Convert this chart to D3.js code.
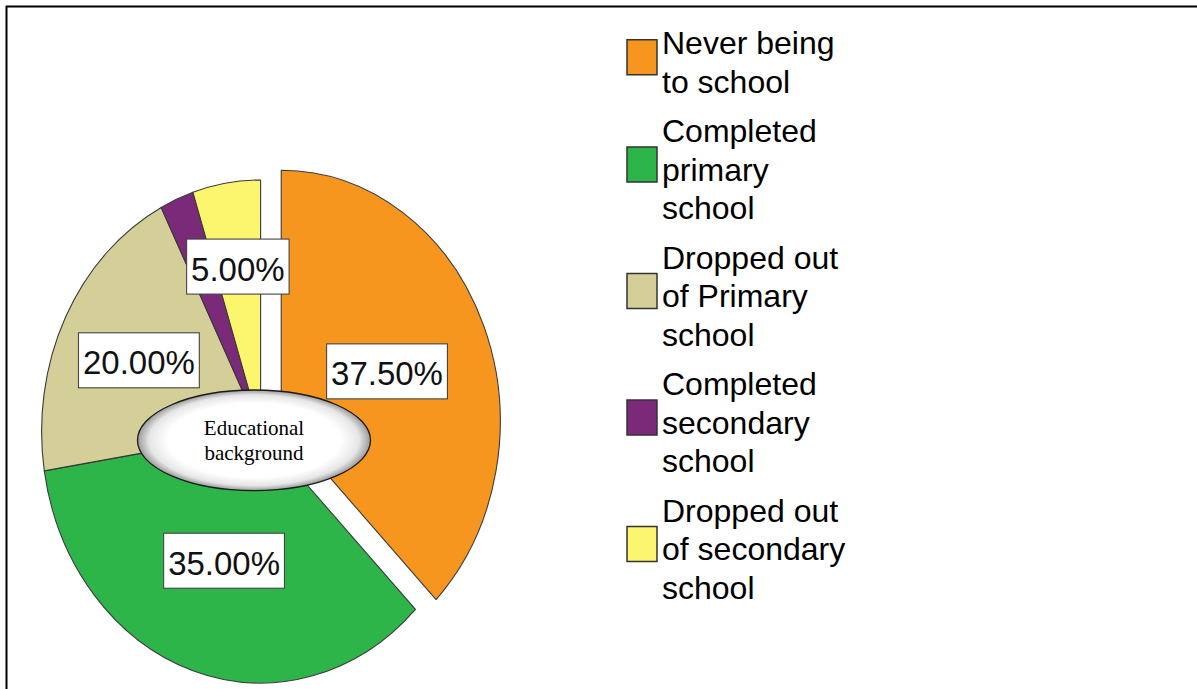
<!DOCTYPE html>
<html>
<head>
<meta charset="utf-8">
<script src="https://cdn.jsdelivr.net/npm/d3@7/dist/d3.min.js"></script>
<style>
  html, body { margin: 0; padding: 0; background: #fff; }
  svg { display: block; }
</style>
</head>
<body>
<svg id="chart" width="1197" height="689"></svg>
<script>
// Educational background of respondents (percent of total)
const categories = [
  "Never being to school",
  "Completed primary school",
  "Dropped out of Primary school",
  "Completed secondary school",
  "Dropped out of secondary school"
];
const legendLines = [
  ["Never being", "to school"],
  ["Completed", "primary", "school"],
  ["Dropped out", "of Primary", "school"],
  ["Completed", "secondary", "school"],
  ["Dropped out", "of secondary", "school"]
];
const percentages = [37.5, 35.0, 20.0, 2.5, 5.0];
const sliceColors = ["#f7961f", "#2eb54a", "#d4cf98", "#7b2a79", "#fbf66e"];
const explodedSlices = [true, false, false, false, false];
const centerTitle = ["Educational", "background"];

const svg = d3.select("#chart");

// frame (top and left rules)
svg.append("path")
  .attr("d", "M6.5,689 V6.5 H1197")
  .attr("fill", "none")
  .attr("stroke", "#000")
  .attr("stroke-width", 2);

// ---- pie (drawn on a unit circle, stretched into an ellipse) ----
const cx = 260.6, cy = 431.5, rx = 219, ry = 251.5;
const R = 100;
const sx = rx / R, sy = ry / R;
const explodeFrac = 0.102;

const pie = d3.pie().sort(null).value(d => d.value)
  .startAngle(0).endAngle(2 * Math.PI);
const arc = d3.arc().innerRadius(0).outerRadius(R);

const data = categories.map((c, i) => ({
  name: c, value: percentages[i], color: sliceColors[i], exploded: explodedSlices[i]
}));
const arcs = pie(data);

const pieG = svg.append("g")
  .attr("transform", `translate(${cx},${cy}) scale(${sx},${sy})`);

function offsetOf(a) {
  if (!a.data.exploded) return [0, 0];
  const mid = (a.startAngle + a.endAngle) / 2;
  return [explodeFrac * R * Math.sin(mid), -explodeFrac * R * Math.cos(mid)];
}

pieG.selectAll("path.slice")
  .data(arcs)
  .join("path")
  .attr("class", "slice")
  .attr("d", arc)
  .attr("transform", d => { const o = offsetOf(d); return `translate(${o[0]},${o[1]})`; })
  .attr("fill", d => d.data.color)
  .attr("stroke", "#3a3a3a")
  .attr("stroke-width", 1.1)
  .attr("stroke-linejoin", "round")
  .attr("vector-effect", "non-scaling-stroke");

// ---- value labels at each sector's centroid ----
const labelFont = 34;
const labelG = svg.append("g");
arcs.filter(a => a.data.value >= 3).forEach(a => {
  const half = (a.endAngle - a.startAngle) / 2;
  const mid = (a.startAngle + a.endAngle) / 2;
  const dist = (2 / 3) * R * Math.sin(half) / half;
  const o = offsetOf(a);
  const lx = cx + sx * (dist * Math.sin(mid) + o[0]);
  const ly = cy + sy * (-dist * Math.cos(mid) + o[1]);
  const g = labelG.append("g").attr("transform", `translate(${lx},${ly})`);
  const rect = g.append("rect");
  const t = g.append("text")
    .attr("text-anchor", "middle")
    .attr("y", 14)
    .attr("transform", "scale(0.97,1)")
    .attr("font-family", "Arial, 'Liberation Sans', sans-serif")
    .attr("font-size", labelFont)
    .attr("fill", "#111")
    .text(d3.format(".2f")(a.data.value) + "%");
  const w = t.node().getComputedTextLength() * 0.97 + 9;
  const h = 55;
  rect.attr("x", -w / 2).attr("y", -h / 2).attr("width", w).attr("height", h)
    .attr("fill", "#fff").attr("stroke", "#444").attr("stroke-width", 1.1);
});

// ---- central title bubble ----
const defs = svg.append("defs");
const grad = defs.append("radialGradient").attr("id", "bubbleFill")
  .attr("cx", "50%").attr("cy", "50%").attr("r", "50%");
grad.append("stop").attr("offset", "0%").attr("stop-color", "#ffffff");
grad.append("stop").attr("offset", "74%").attr("stop-color", "#ffffff");
grad.append("stop").attr("offset", "90%").attr("stop-color", "#e6e6e6");
grad.append("stop").attr("offset", "100%").attr("stop-color", "#9a9a9a");

const bub = svg.append("g").attr("transform", "translate(254,440.3)");
bub.append("ellipse")
  .attr("rx", 116.5).attr("ry", 50.3)
  .attr("fill", "url(#bubbleFill)")
  .attr("stroke", "#1a1a1a")
  .attr("stroke-width", 1.3);
bub.selectAll("text")
  .data(centerTitle)
  .join("text")
  .attr("text-anchor", "middle")
  .attr("y", (d, i) => -5 + i * 25)
  .attr("font-family", "'Times New Roman', 'Liberation Serif', serif")
  .attr("font-size", 21)
  .attr("fill", "#000")
  .text(d => d);

// ---- legend ----
const legX = 627, textX = 662;
const lineH = 38.5, entryGap = 49.5;
const legFont = 32;
let base = 54;
const legG = svg.append("g");
legendLines.forEach((lines, i) => {
  const g = legG.append("g");
  const meanBase = base + (lines.length - 1) * lineH / 2;
  g.append("rect")
    .attr("x", legX).attr("y", meanBase - 16 - 17.5)
    .attr("width", 30).attr("height", 35)
    .attr("fill", sliceColors[i])
    .attr("stroke", "#333")
    .attr("stroke-width", 1.5);
  lines.forEach((ln, j) => {
    g.append("text")
      .attr("x", textX).attr("y", base + j * lineH)
      .attr("font-family", "Arial, 'Liberation Sans', sans-serif")
      .attr("font-size", legFont)
      .attr("fill", "#000")
      .text(ln);
  });
  base += (lines.length - 1) * lineH + entryGap;
});
</script>
</body>
</html>
